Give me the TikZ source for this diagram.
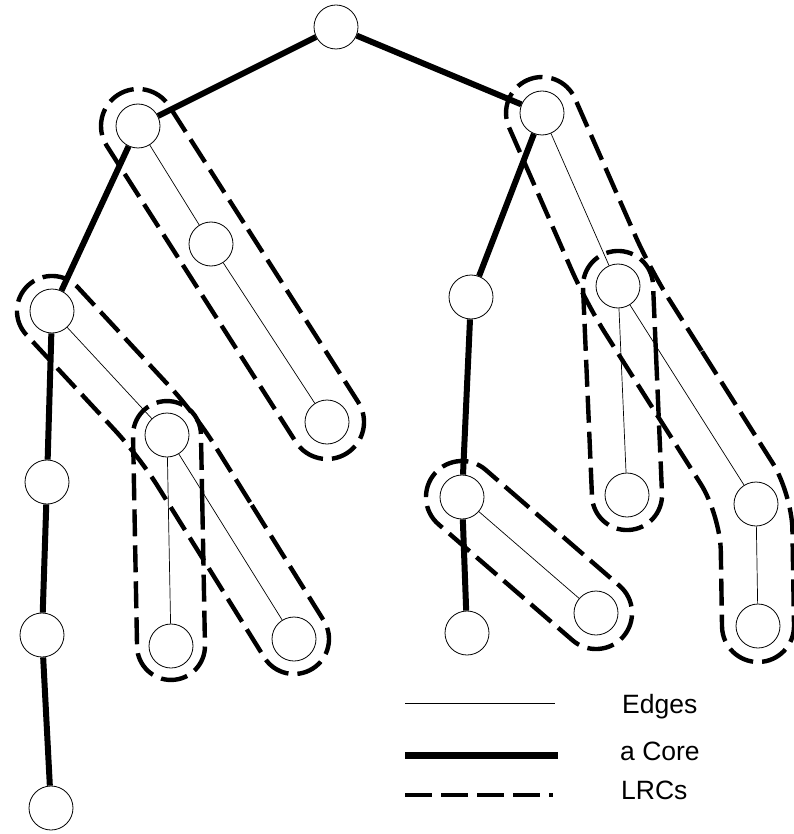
\documentclass[tikz,border=0pt]{standalone}
\usepackage{fontspec}
\setmainfont{Liberation Sans}
\tikzset{
  vtx/.style={circle, draw, line width=0.8pt, fill=white, minimum size=44pt, inner sep=0pt},
  core/.style={line width=6pt},
  edge/.style={line width=0.7pt},
  lrc/.style={line width=4.4pt, dash pattern=on 27pt off 9pt},
  lbl/.style={anchor=base west, font=\fontsize{26.5}{30}\selectfont, inner sep=0pt}
}
\begin{document}
\begin{tikzpicture}[x=1pt, y=-1pt]
\useasboundingbox (0,0) rectangle (793,834);
% vertices
\node[vtx] (root) at (336,27) {};
\node[vtx] (L1) at (138,126) {};
\node[vtx] (L1c) at (211,244) {};
\node[vtx] (L1l) at (327,422) {};
\node[vtx] (L2) at (52,311) {};
\node[vtx] (L2c) at (167,435) {};
\node[vtx] (L2cc) at (171,646) {};
\node[vtx] (L2c2) at (294,639) {};
\node[vtx] (L3) at (47,482) {};
\node[vtx] (L4) at (42,635) {};
\node[vtx] (L5) at (51,808) {};
\node[vtx] (R1) at (542,113) {};
\node[vtx] (R1c) at (618,286) {};
\node[vtx] (R1cc) at (627,495) {};
\node[vtx] (R1c2) at (756,504) {};
\node[vtx] (R1c2c) at (758,626) {};
\node[vtx] (R2) at (471,297) {};
\node[vtx] (R3) at (462,497) {};
\node[vtx] (R3c) at (596,613) {};
\node[vtx] (R4) at (467,633) {};
% core edges
\draw[core] (root) -- (L1);
\draw[core] (root) -- (R1);
\draw[core] (L1) -- (L2);
\draw[core] (L2) -- (L3);
\draw[core] (L3) -- (L4);
\draw[core] (L4) -- (L5);
\draw[core] (R1) -- (R2);
\draw[core] (R2) -- (R3);
\draw[core] (R3) -- (R4);
% thin edges
\draw[edge] (L1) -- (L1c);
\draw[edge] (L1c) -- (L1l);
\draw[edge] (L2) -- (L2c);
\draw[edge] (L2c) -- (L2cc);
\draw[edge] (L2c) -- (L2c2);
\draw[edge] (R1) -- (R1c);
\draw[edge] (R1c) -- (R1cc);
\draw[edge] (R1c) -- (R1c2);
\draw[edge] (R1c2) -- (R1c2c);
\draw[edge] (R3) -- (R3c);
% LRCs
\draw[lrc, rounded corners=37pt] (263.7,254.0) -- (149.3,74.9) -- (86.9,114.7) -- (315.7,473.1) -- (378.1,433.3) -- cycle;
\draw[lrc, rounded corners=35pt] (268.6,532.0) -- (194.9,413.7) -- (53.9,261.5) -- (2.5,309.1) -- (139.1,456.3) -- (282.8,687.2) -- (342.2,650.2) -- cycle;
\draw[lrc, rounded corners=34pt] (203.0,539.9) -- (200.3,400.4) -- (132.4,401.7) -- (137.7,680.6) -- (205.6,679.3) -- cycle;
\draw[lrc, rounded corners=35pt] (657.5,389.0) -- (651.5,249.5) -- (581.5,252.5) -- (593.5,531.5) -- (663.5,528.5) -- cycle;
\draw[lrc, rounded corners=36pt] (552.6,527.8) -- (458.4,446.2) -- (411.2,500.7) -- (599.7,663.8) -- (646.8,609.4) -- cycle;
\draw[lrc, rounded corners=36pt] (720.9,381.2) -- (649.9,269.0) -- (560.5,65.6) -- (494.6,94.5) -- (586.1,303.0) -- (720.2,514.7) -- (722.6,662.6) -- (794.6,661.4) -- (791.8,493.3) -- cycle;
% legend
\coordinate (e1) at (405,703); \coordinate (e2) at (555,703);
\coordinate (c1) at (405,755); \coordinate (c2) at (558,755);
\coordinate (d1) at (405,795); \coordinate (d2) at (553,795);
\draw[edge] (e1) -- (e2);
\draw[core, line width=7pt] (c1) -- (c2);
\draw[lrc] (d1) -- (d2);
\node[lbl] (tE) at (622,713) {Edges};
\node[lbl] (tC) at (620,760) {a Core};
\node[lbl] (tL) at (621,799) {LRCs};
\end{tikzpicture}
\end{document}
